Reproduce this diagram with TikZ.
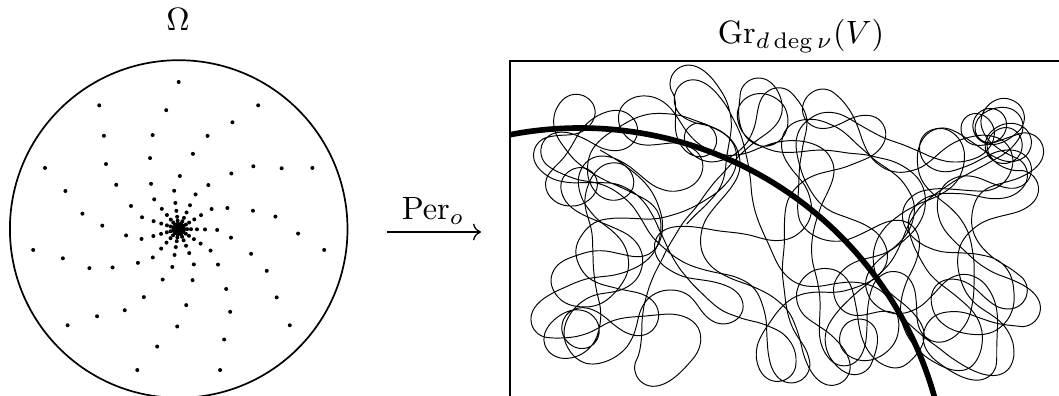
\documentclass[tikz,border=0pt]{standalone}
\usetikzlibrary{arrows.meta}
\tikzset{
  dotc/.style={fill=black},
  frame/.style={line width=0.6pt},
  scrib/.style={line width=0.3pt, line join=round},
  bigarc/.style={line width=1.75pt},
  maparrow/.style={line width=0.4pt, -{Computer Modern Rightarrow}},
}
\begin{document}
\begin{tikzpicture}[x=0.31pt,y=-0.31pt]
\useasboundingbox (0,0) rectangle (1059,396);
\clip (0,0) rectangle (1059,396);
% left disc
\node[draw, circle, line width=0.53pt, minimum size=337.6*0.31pt, inner sep=0pt] (disc) at (178.7,229) {};
\node (omega) at (178,19) {$\Omega$};
\foreach \r/\o in {147/0,119.5/6,97.5/15.5,76.5/22,53/31.5,38.5/39.5,26.3/40,18.3/40,12.3/40,8.5/40,5.8/40,4/40,2.7/40,1.8/40,1/40}{
  \foreach \j in {0,...,10}{
    \fill[dotc] ({178.7+\r*cos(90+\o+\j*360/11)},{229-\r*sin(90+\o+\j*360/11)}) circle[radius=0.62pt];
  }
}
% arrow
\coordinate (as) at (387,232);
\coordinate (ae) at (481,232);
\draw[maparrow] (as) -- (ae);
\node (per) at (433,211) {$\mathrm{Per}_o$};
% right box
\node (gr) at (801,36) {$\mathrm{Gr}_{d\deg\nu}(V)$};
\draw[frame] (510,61) rectangle (1080,420);
% scribble: a smooth random walk drifting after a slowly moving target
\pgfmathsetseed{12345}
\gdef\px{600}\gdef\py{150}\gdef\th{30}\gdef\om{0}
\begin{scope}
\clip (510,61) rectangle (1070,410);
\foreach \c in {1,...,4}{
  \xdef\pts{(\px,\py)}
  \foreach \i in {1,...,560}{
    \pgfmathsetmacro\k{(\c-1)*560+\i}
    \pgfmathsetmacro\tx{785+215*sin(0.63*\k-90)}
    \pgfmathsetmacro\ty{228+120*sin(2.1*\k+60)}
    \pgfmathsetmacro\dx{785-\px}
    \pgfmathsetmacro\dy{228-\py}
    \pgfmathsetmacro\dd{mod(atan2(\dy,\dx)-\th+540,360)-180}
    \pgfmathsetmacro\dt{mod(atan2(\ty-\py,\tx-\px)-\th+540,360)-180}
    \pgfmathsetmacro\rr{4*rand}
    \pgfmathsetmacro\omn{(abs(\dx)>235 || abs(\dy)>135) ? max(-20,min(20,0.3*\dd)) : max(-26,min(26,0.9*\om+\rr+0.02*\dt))}
    \pgfmathsetmacro\thn{mod(\th+\omn+360,360)}
    \pgfmathsetmacro\pxn{\px+6.5*cos(\thn)}
    \pgfmathsetmacro\pyn{\py+6.5*sin(\thn)}
    \global\let\om\omn \global\let\th\thn \global\let\px\pxn \global\let\py\pyn
    \xdef\pts{\pts (\px,\py)}
  }
  \edef\scribcmd{\noexpand\draw[scrib] plot[smooth, tension=0.5] coordinates {\pts};}
  \scribcmd
}
\draw[bigarc] (580,496) ++(255:368) arc[start angle=255, end angle=350, radius=368];
\end{scope}
\end{tikzpicture}
\end{document}
